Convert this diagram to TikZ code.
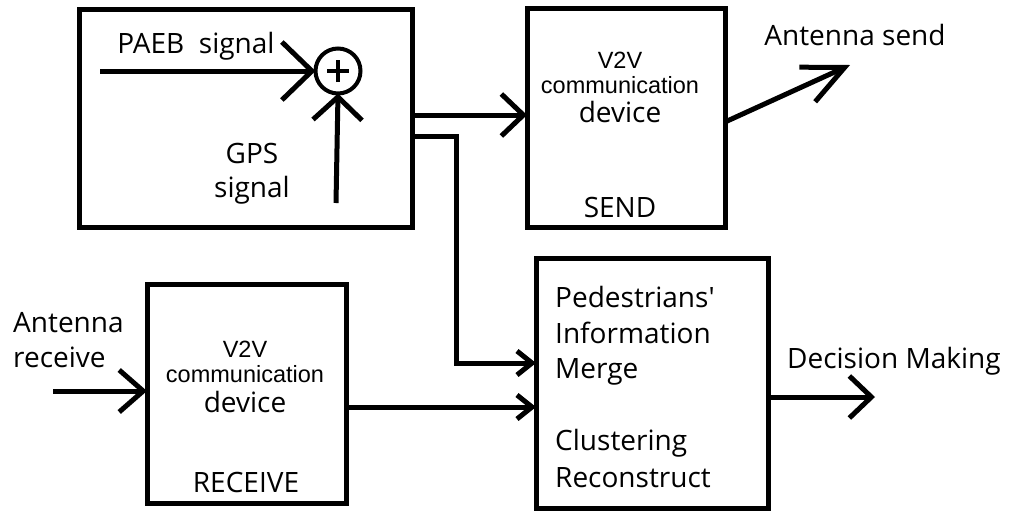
\documentclass[tikz,border=0pt]{standalone}
\usepackage{fontspec}
\setmainfont{Open Sans}
\newfontfamily\arialf{Liberation Sans}
\usetikzlibrary{arrows.meta}
\begin{document}
\begin{tikzpicture}[x=1pt,y=-1pt,
  blk/.style={draw, line width=5pt, inner sep=0pt, outer sep=0pt},
  txt/.style={font=\fontsize{28}{34}\selectfont, inner sep=0pt},
  sml/.style={font=\arialf\fontsize{23.5}{28}\selectfont, inner sep=0pt},
  conn/.style={line width=5pt},
  bigtip/.style={-{Straight Barb[length=22pt,width=42pt]}},
  smalltip/.style={-{Straight Barb[length=15pt,width=24pt]}}
]
\useasboundingbox (0,0) rectangle (1011,512);
% blocks
\node[blk, minimum width=333pt, minimum height=218pt] (box1) at (245.5,118) {};
\node[blk, minimum width=198pt, minimum height=219pt] (send) at (626,117.5) {};
\node[blk, minimum width=199pt, minimum height=219pt] (recv) at (246.5,393.5) {};
\node[blk, minimum width=232pt, minimum height=250pt] (merge) at (652,383) {};
\node[draw, circle, line width=4pt, minimum size=45pt, inner sep=0pt, outer sep=0pt] (sum) at (338,71) {};
\draw[line width=4pt] ([xshift=-11pt]sum.center) -- ([xshift=11pt]sum.center);
\draw[line width=4pt] ([yshift=-11pt]sum.center) -- ([yshift=11pt]sum.center);
% helper coordinates
\coordinate (paebin) at (100,71);
\coordinate (gpsin) at (336,203);
\coordinate (y115) at (0,115);
\coordinate (bend) at (456,136);
\coordinate (y363) at (0,363);
\coordinate (y407) at (0,407);
\coordinate (y391) at (0,391);
\coordinate (y122) at (0,122);
\coordinate (y397) at (0,397);
\coordinate (antrin) at (53,391);
\coordinate (antsend) at (850,65);
\coordinate (decout) at (875,397);
% connectors
\draw[conn,-{Straight Barb[length=30pt,width=58pt]}] (paebin) -- (sum.west);
\draw[conn,-{Straight Barb[length=23pt,width=49pt]}] (gpsin) -- (sum.south);
\draw[conn,bigtip] (box1.east |- y115) -- (send.west |- y115);
\draw[conn,smalltip] (box1.east |- bend) -- (bend) |- (merge.west |- y363);
\draw[conn,smalltip] (recv.east |- y407) -- (merge.west |- y407);
\draw[conn,-{Straight Barb[length=24pt,width=42pt]}] (antrin) -- (recv.west |- y391);
\draw[conn,-{Straight Barb[length=41pt,width=38pt]}] (send.east |- y122) -- (antsend);
\draw[conn,bigtip] (merge.east |- y397) -- (decout);
% texts
\node[txt, anchor=base] (tpaeb) at (196,53) {PAEB\ \ signal};
\node[txt, anchor=base] (tgps) at (252,163) {GPS};
\node[txt, anchor=base] (tgps2) at (252,197) {signal};
\node[txt, anchor=base] (tants) at (855,45) {Antenna send};
\node[sml, anchor=base] (s1) at (620,68) {V2V};
\node[sml, anchor=base] (s2) at (620,93) {communication};
\node[txt, anchor=base] (s3) at (620,122) {device};
\node[txt, anchor=base] (s4) at (620,217) {SEND};
\node[sml, anchor=base] (r1) at (245,357) {V2V};
\node[sml, anchor=base] (r2) at (245,382) {communication};
\node[txt, anchor=base] (r3) at (245,412) {device};
\node[txt, anchor=base] (r4) at (246,492) {RECEIVE};
\node[txt, anchor=base west] (ar1) at (13,332) {Antenna};
\node[txt, anchor=base west] (ar2) at (13,367) {receive};
\node[txt, anchor=base west] (m1) at (555,307) {Pedestrians\textquotesingle};
\node[txt, anchor=base west] (m2) at (555,343) {Information};
\node[txt, anchor=base west] (m3) at (555,378) {Merge};
\node[txt, anchor=base west] (m4) at (555,450) {Clustering};
\node[txt, anchor=base west] (m5) at (555,487) {Reconstruct};
\node[txt, anchor=base west] (dm) at (787,368) {Decision Making};
\end{tikzpicture}
\end{document}
